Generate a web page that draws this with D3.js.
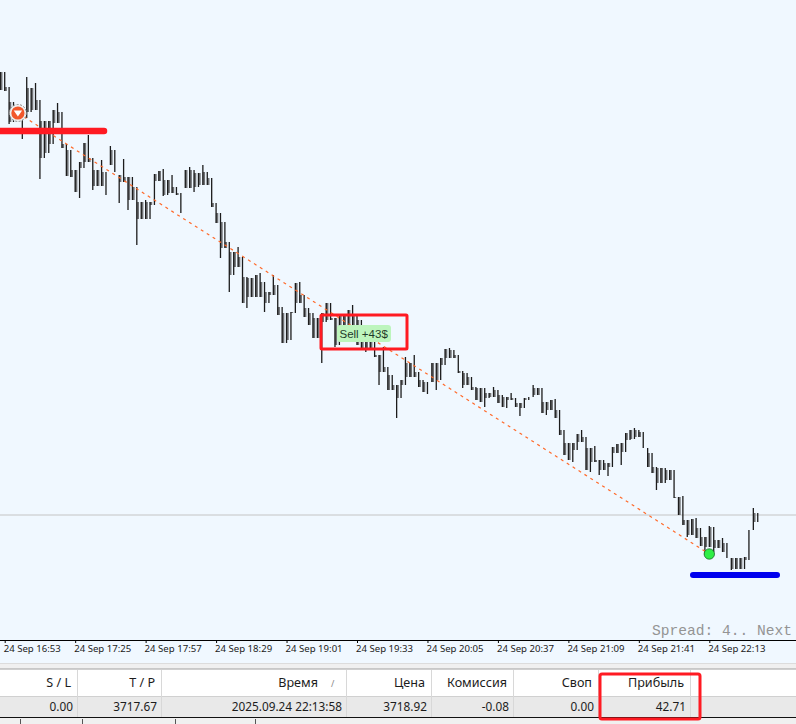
<!DOCTYPE html>
<html>
<head>
<meta charset="utf-8">
<script src="https://cdn.jsdelivr.net/npm/d3@7/dist/d3.min.js"></script>
<style>
html,body{margin:0;padding:0;background:#f0f0f0;overflow:hidden}
svg{display:block}
</style>
</head>
<body>
<svg id="plot"></svg>
<script>
// M2 bars, 24 Sep, first bar 16:51
var highs = [3732.21,3732.21,3731.76,3731.31,3731.16,3731.13,3732.06,3731.73,3731.88,3731.37,
3730.74,3730.74,3731.07,3731.28,3731.01,3730.05,3729.87,3729.27,3729.51,3730.08,
3730.32,3729.63,3729.27,3729.57,3729.21,3729.99,3729.87,3729.12,3729.60,3729.06,
3729.06,3728.76,3728.31,3728.37,3728.31,3729.15,3729.24,3729.30,3728.97,3729.12,
3728.76,3728.58,3729.27,3729.36,3729.27,3729.18,3729.42,3729.21,3729.03,3728.28,
3727.98,3727.71,3727.11,3726.81,3726.96,3726.66,3726.06,3726.03,3726.12,3726.18,
3725.91,3725.61,3726.12,3725.82,3725.16,3724.98,3725.01,3725.88,3725.91,3725.52,
3725.13,3724.98,3724.83,3724.98,3725.28,3725.28,3724.83,3724.92,3724.92,3725.07,
3725.22,3724.92,3724.77,3724.47,3724.32,3724.11,3723.72,3723.96,3723.36,3723.12,
3722.82,3722.97,3723.66,3723.48,3723.72,3723.21,3722.97,3722.91,3723.48,3723.48,
3723.63,3723.90,3723.93,3723.87,3723.72,3723.24,3723.18,3723.06,3722.76,3722.73,
3722.73,3722.58,3722.76,3722.67,3722.52,3722.46,3722.58,3722.43,3722.28,3722.43,
3722.46,3722.82,3722.73,3722.73,3722.31,3722.37,3722.40,3722.07,3721.47,3721.08,
3721.08,3721.35,3721.47,3721.26,3720.93,3720.99,3720.57,3720.57,3720.48,3720.96,
3721.05,3721.08,3721.38,3721.47,3721.53,3721.47,3721.41,3720.93,3720.78,3720.36,
3720.33,3720.33,3720.27,3720.27,3719.46,3719.49,3718.77,3718.80,3718.83,3718.53,
3718.26,3718.59,3718.56,3718.17,3718.23,3718.08,3717.63,3717.63,3717.63,3717.66,
3718.47,3719.13,3718.98];

var lows = [3731.67,3731.64,3730.65,3730.71,3730.77,3730.20,3730.83,3731.01,3731.07,3729.00,
3729.63,3729.78,3730.05,3730.68,3729.93,3729.09,3729.06,3728.61,3728.43,3729.33,
3729.51,3728.67,3728.79,3728.79,3728.52,3729.42,3729.21,3728.28,3728.91,3728.07,
3728.37,3727.02,3727.80,3727.80,3727.80,3728.22,3728.94,3728.49,3728.52,3728.58,
3728.52,3727.98,3728.73,3728.73,3728.61,3728.76,3728.82,3728.82,3728.16,3727.68,
3726.63,3726.93,3725.61,3726.12,3726.36,3725.28,3725.13,3725.46,3725.46,3725.46,
3725.01,3725.28,3725.52,3724.92,3724.08,3724.08,3724.17,3724.98,3725.28,3724.86,
3724.62,3724.23,3724.23,3723.48,3724.71,3724.77,3723.96,3724.02,3724.17,3724.17,
3724.32,3724.02,3723.87,3723.81,3723.87,3723.66,3722.82,3723.21,3722.67,3722.67,
3721.83,3722.43,3722.82,3723.06,3723.06,3722.76,3722.61,3722.55,3722.91,3722.67,
3722.97,3723.42,3723.63,3723.63,3723.18,3722.73,3722.82,3722.67,3722.37,3722.31,
3722.16,3722.43,3722.46,3722.28,3722.16,3722.13,3722.37,3722.16,3721.89,3722.13,
3722.37,3722.46,3722.52,3721.98,3721.92,3722.07,3721.83,3721.32,3720.72,3720.57,
3720.51,3720.87,3721.11,3720.27,3720.21,3720.51,3720.12,3720.27,3720.09,3720.36,
3720.78,3720.42,3720.81,3721.17,3721.20,3721.26,3720.93,3720.36,3720.18,3719.67,
3719.88,3719.88,3719.97,3719.43,3718.92,3718.62,3718.26,3718.32,3718.23,3717.99,
3717.72,3717.96,3717.81,3717.93,3717.81,3717.63,3717.27,3717.30,3717.30,3717.30,
3717.57,3718.47,3718.71];

var tickTimes = ['16:53','17:25','17:57','18:29','19:01','19:33','20:05','20:37','21:09','21:41','22:13'];
var tableHeaders = ['S / L','T / P','Время','Цена','Комиссия','Своп','Прибыль'];
var tableValues = ['0.00','3717.67','2025.09.24 22:13:58','3718.92','-0.08','0.00','42.71'];
var bidPrice = 3718.92;
var entryTime = '16:59', entryPrice = 3730.98;
var exitTime = '22:13', exitPrice = 3717.75;
var firstBar = '16:51', barMinutes = 2;

var W = 796, H = 724, axisY = 640;
var parseT = d3.timeParse('%Y-%m-%d %H:%M');
function t(s){ return parseT('2025-09-24 ' + s); }

var x = d3.scaleTime().domain([t('16:53'), t('22:13')]).range([4.7, 709.3]);
var y = d3.scaleLinear().domain([3734.37, 3734.37 - 0.03*H]).range([0, H]);

var bars = highs.map(function(h,i){
    return {time:d3.timeMinute.offset(t(firstBar), i*barMinutes), high:h, low:lows[i]};
});

var svg = d3.select('#plot').attr('width',W).attr('height',H);

svg.append('rect').attr('width',W).attr('height',H).attr('fill','#f0f0f0');
svg.append('rect').attr('width',W).attr('height',663).attr('fill','#f0f8ff');

// bid line
svg.append('line').attr('x1',0).attr('x2',W).attr('y1',y(bidPrice)).attr('y2',y(bidPrice))
    .attr('stroke','#c4c4c4').attr('stroke-width',1);

// grey fill where a bar overlaps the next one
var plot = svg.append('g');
plot.selectAll('rect.fill')
    .data(bars.slice(0,-1))
    .enter()
    .append('rect')
    .attr('class','fill')
    .attr('x',function(d){return x(d.time)-0.2})
    .attr('width',2.4)
    .attr('y',function(d,i){return y(Math.min(d.high,bars[i+1].high))})
    .attr('height',function(d,i){
        return Math.max(0, y(Math.max(d.low,bars[i+1].low)) - y(Math.min(d.high,bars[i+1].high)));
    })
    .attr('fill','#6f7174');

plot.selectAll('line.bar')
    .data(bars)
    .enter()
    .append('line')
    .attr('class','bar')
    .attr('x1',function(d){return x(d.time)})
    .attr('x2',function(d){return x(d.time)})
    .attr('y1',function(d){return y(d.high)})
    .attr('y2',function(d){return y(d.low)})
    .attr('stroke','#1c1c1c')
    .attr('stroke-width',1.3);

// trade line
svg.append('line')
    .attr('x1',x(t(entryTime))).attr('y1',y(entryPrice))
    .attr('x2',x(t(exitTime))).attr('y2',y(exitPrice))
    .attr('stroke','#ff6a2a').attr('stroke-width',1.2).attr('stroke-dasharray','3 4');

// entry marker
var ex = x(t(entryTime)), ey = y(entryPrice);
svg.append('circle').attr('cx',ex).attr('cy',ey).attr('r',8.5)
    .attr('fill','#f0f0f0').attr('stroke','#8a8a8a').attr('stroke-width',1).attr('stroke-dasharray','2 1.5');
svg.append('circle').attr('cx',ex).attr('cy',ey).attr('r',6.6).attr('fill','#f2572b');
svg.append('path').attr('d',d3.line()([[ex-4.2,ey-2.5],[ex+4.2,ey-2.5],[ex,ey+3.6]])+'Z').attr('fill','#fff');

// exit marker
svg.append('circle').attr('cx',x(t(exitTime))).attr('cy',y(exitPrice)).attr('r',5.2)
    .attr('fill','#30ee45').attr('stroke','#1d6b2c').attr('stroke-width',0.8);

// hand drawn highlights
svg.append('line').attr('x1',-5).attr('x2',104).attr('y1',131).attr('y2',131)
    .attr('stroke','#ff1a22').attr('stroke-width',6.5).attr('stroke-linecap','round');
svg.append('line').attr('x1',693).attr('x2',777).attr('y1',575).attr('y2',575)
    .attr('stroke','#0000ee').attr('stroke-width',6).attr('stroke-linecap','round');

// profit label
svg.append('rect').attr('x',337).attr('y',325).attr('width',54).attr('height',17).attr('rx',3)
    .attr('fill','#bdf5bd');
svg.append('text').attr('x',339.5).attr('y',337.5).text('Sell +43$')
    .attr('font-family','Liberation Sans').attr('font-size',11.5).attr('fill','#1f3a2a');
svg.append('rect').attr('x',321).attr('y',315).attr('width',86).attr('height',34).attr('rx',1)
    .attr('fill','none').attr('stroke','#ff1a22').attr('stroke-width',3);

svg.append('text').attr('x',652).attr('y',635).text('Spread: 4.. Next')
    .attr('font-family','Liberation Mono').attr('font-size',14.6).attr('fill','#949494');

// time axis
var axis = d3.axisBottom(x)
    .tickValues(tickTimes.map(t))
    .tickSize(3)
    .tickFormat(d3.timeFormat('%d %b %H:%M'));
var gx = svg.append('g').attr('transform','translate(0,'+axisY+')').call(axis);
gx.select('.domain').attr('d','M0,0.5H'+W).attr('stroke','#000');
gx.selectAll('.tick text')
    .attr('text-anchor','start').attr('x',-1.5).attr('y',5).attr('dy','0.71em')
    .attr('font-family','Noto Sans').attr('font-size',9.6).attr('fill','#222');

// table under the chart
svg.append('line').attr('x1',0).attr('x2',W).attr('y1',663.5).attr('y2',663.5).attr('stroke','#dcdcdc');
svg.append('rect').attr('y',669).attr('width',W).attr('height',27).attr('fill','#fff');
svg.append('rect').attr('y',696).attr('width',W).attr('height',21).attr('fill','#e9e9e9');
svg.append('line').attr('x1',0).attr('x2',W).attr('y1',669).attr('y2',669).attr('stroke','#a0a0a0');
svg.append('line').attr('x1',0).attr('x2',W).attr('y1',696.5).attr('y2',696.5).attr('stroke','#d0d0d0');
svg.append('line').attr('x1',0).attr('x2',W).attr('y1',717.5).attr('y2',717.5).attr('stroke','#111');

var colEnds = [77,161,346,431,513,598,690];
svg.selectAll('line.col').data(colEnds).enter().append('line').attr('class','col')
    .attr('x1',function(d){return d+0.5}).attr('x2',function(d){return d+0.5})
    .attr('y1',670).attr('y2',717).attr('stroke','#d8d8d8');
svg.selectAll('line.tab').data([20,82,175,255]).enter().append('line').attr('class','tab')
    .attr('x1',function(d){return d+0.5}).attr('x2',function(d){return d+0.5})
    .attr('y1',719).attr('y2',724).attr('stroke','#555');

svg.selectAll('text.head').data(tableHeaders).enter().append('text').attr('class','head')
    .attr('x',function(d,i){return colEnds[i]-(i==2?28:6)})
    .attr('y',687).attr('text-anchor','end').text(function(d){return d})
    .attr('font-family','Noto Sans').attr('font-size',12.6).attr('fill','#1c1c1c');
svg.append('text').attr('x',331).attr('y',687).text('/')
    .attr('font-family','Noto Sans').attr('font-size',9).attr('fill','#888');
svg.selectAll('text.val').data(tableValues).enter().append('text').attr('class','val')
    .attr('x',function(d,i){return colEnds[i]-4})
    .attr('y',711).attr('text-anchor','end').text(function(d){return d})
    .attr('font-family','Noto Sans').attr('font-size',11.8).attr('fill','#1c1c1c');

svg.append('rect').attr('x',600).attr('y',674).attr('width',100).attr('height',45).attr('rx',2)
    .attr('fill','none').attr('stroke','#ff1a22').attr('stroke-width',3);
</script>
</body>
</html>
